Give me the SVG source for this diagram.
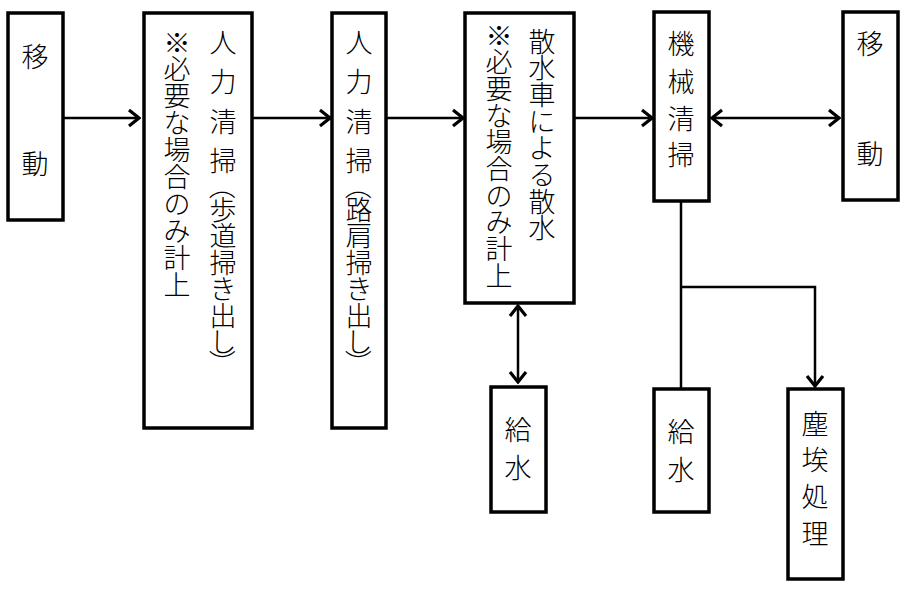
<svg xmlns="http://www.w3.org/2000/svg" width="911" height="592" viewBox="0 0 911 592">
<defs>
<style>
.box{fill:#fff;stroke:#000;stroke-width:3.5}
.t{font-family:"Noto Sans CJK JP","Noto Sans CJK SC",sans-serif;font-size:27px;fill:#000;text-anchor:middle;dominant-baseline:central;font-weight:300}
.c{fill:none;stroke:#000;stroke-width:2.5}
</style>
<marker id="ah" viewBox="-12 -10 14 20" markerWidth="14" markerHeight="20" refX="0" refY="0" orient="auto-start-reverse" markerUnits="userSpaceOnUse">
<path d="M-10,-8 L0,0 L-10,8" fill="none" stroke="#000" stroke-width="3.2"/>
</marker>
</defs>
<rect width="911" height="592" fill="#fff"/>
<g id="connectors">
<line class="c" x1="63" y1="118" x2="139" y2="118" marker-end="url(#ah)"/>
<line class="c" x1="252" y1="118" x2="330" y2="118" marker-end="url(#ah)"/>
<line class="c" x1="386" y1="118" x2="463" y2="118" marker-end="url(#ah)"/>
<line class="c" x1="574" y1="118" x2="652" y2="118" marker-end="url(#ah)"/>
<line class="c" x1="712" y1="118" x2="839" y2="118" marker-start="url(#ah)" marker-end="url(#ah)"/>
<line class="c" x1="518" y1="306" x2="518" y2="382" marker-start="url(#ah)" marker-end="url(#ah)"/>
<line class="c" x1="681" y1="201" x2="681" y2="389"/>
<path class="c" d="M681,287 H815 V386" marker-end="url(#ah)"/>
</g>
<g id="n1">
<rect class="box" x="8" y="13" width="55" height="207"/>
<text class="t" x="35 35" y="55 162">移動</text>
</g>
<g id="n2">
<rect class="box" x="144" y="13" width="108" height="415"/>
<text class="t" x="223 223 223 223" y="41 80 120 159">人力清掃</text>
<text class="t" x="223" y="186" transform="rotate(90 223 186)">（</text>
<text class="t" x="223 223 223 223 223 223" y="208 234.5 261 287.5 314 340.5">歩道掃き出し</text>
<text class="t" x="223" y="363" transform="rotate(90 223 363)">）</text>
<text class="t" x="177 177 177 177 177 177 177 177 177 177" y="41 67.9 94.8 121.7 148.6 175.5 202.4 229.3 256.2 283.1">※必要な場合のみ計上</text>
</g>
<g id="n3">
<rect class="box" x="332" y="13" width="54" height="415"/>
<text class="t" x="359 359 359 359" y="41 80 120 159">人力清掃</text>
<text class="t" x="359" y="186" transform="rotate(90 359 186)">（</text>
<text class="t" x="359 359 359 359 359 359" y="208 234.5 261 287.5 314 340.5">路肩掃き出し</text>
<text class="t" x="359" y="363" transform="rotate(90 359 363)">）</text>
</g>
<g id="n4">
<rect class="box" x="465" y="13" width="109" height="290"/>
<text class="t" x="542 542 542 542 542 542 542 542" y="40 66.7 93.4 120.1 146.8 173.5 200.2 226.9">散水車による散水</text>
<text class="t" x="499 499 499 499 499 499 499 499 499 499" y="34 60.7 87.4 114.1 140.8 167.5 194.2 220.9 247.6 274.3">※必要な場合のみ計上</text>
</g>
<g id="n5">
<rect class="box" x="654" y="12" width="55" height="189"/>
<text class="t" x="681 681 681 681" y="42 80 117 153">機械清掃</text>
</g>
<g id="n6">
<rect class="box" x="843" y="12" width="55" height="188"/>
<text class="t" x="870 870" y="42 152">移動</text>
</g>
<g id="n7">
<rect class="box" x="491" y="387" width="55" height="125"/>
<text class="t" x="518 518" y="428 466">給水</text>
</g>
<g id="n8">
<rect class="box" x="654" y="389" width="55" height="123"/>
<text class="t" x="681 681" y="430 468">給水</text>
</g>
<g id="n9">
<rect class="box" x="788" y="389" width="55" height="190"/>
<text class="t" x="815 815 815 815" y="422 458 495 532">塵埃処理</text>
</g>
</svg>
